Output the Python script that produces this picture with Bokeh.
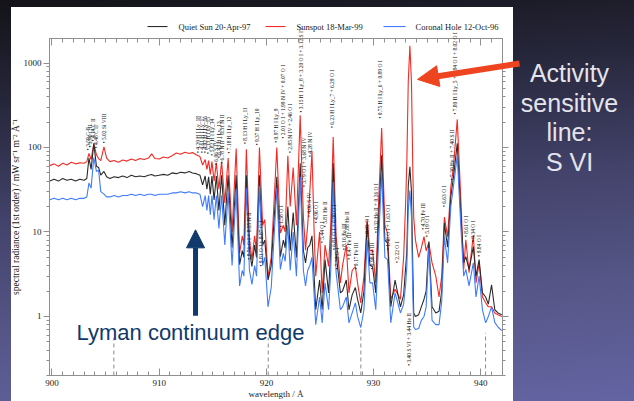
from math import pi, log10, hypot
from bokeh.plotting import figure
from bokeh.models import (ColumnDataSource, Range1d, FixedTicker, LinearAxis, LogAxis,
                          Label, Arrow, NormalHead, CustomJSTickFormatter, NumeralTickFormatter)
from bokeh.core.properties import value
from bokeh.embed import file_html
from bokeh.resources import INLINE

# ---------------- data ----------------
wavelength = [
    899.8, 900.2, 900.6, 901.0, 901.4, 901.8, 902.2, 902.6, 903.0, 903.25,
    903.45, 903.65, 903.9, 904.15, 904.35, 904.55, 904.85, 905.1, 905.4, 905.8,
    906.2, 906.6, 907.0, 907.4, 907.8, 908.2, 908.6, 909.0, 909.3, 909.6,
    910.0, 910.4, 910.8, 911.2, 911.6, 912.0, 912.4, 912.8, 913.1, 913.45,
    913.8, 914.05, 914.29, 914.45, 914.61, 914.77, 914.92, 915.12, 915.33, 915.57,
    915.82, 916.12, 916.43, 916.8, 917.18, 917.5, 917.75, 917.9, 918.13, 918.42,
    918.65, 918.9, 919.08, 919.35, 919.65, 919.85, 920.15, 920.45, 920.97, 921.3,
    921.58, 921.75, 922.0, 922.22, 922.5, 922.8, 923.15, 923.45, 923.65, 923.85,
    924.05, 924.25, 924.45, 924.6, 924.96, 925.2, 925.47, 925.8, 926.0, 926.23,
    926.5, 926.9, 927.1, 927.45, 927.7, 928.0, 928.3, 928.5, 928.8, 929.1,
    929.4, 929.65, 929.9, 930.2, 930.45, 930.75, 931.05, 931.3, 931.6, 932.0,
    932.5, 932.8, 933.0, 933.1, 933.23, 933.38, 933.53, 933.65, 933.74, 933.9,
    934.2, 934.45, 934.7, 934.9, 935.15, 935.45, 935.8, 936.1, 936.35, 936.6,
    936.9, 937.2, 937.45, 937.8, 938.15, 938.4, 938.6, 938.9, 939.3, 939.55,
    939.84, 940.15, 940.45, 940.7, 941.0, 941.3, 941.6, 941.95,
]
sunspot = [
    61, 64, 60, 65, 62, 67, 64, 66, 65, 68,
    85, 72, 110, 82, 74, 70, 102, 75, 68, 70,
    67, 71, 69, 73, 70, 74, 72, 75, 84, 74,
    73, 77, 75, 80, 86, 83, 88, 85, 87, 82,
    78, 62, 72, 55, 70, 48, 68, 40, 66, 32,
    68, 22, 75, 10, 97, 5.6, 9, 7, 95, 8,
    4.7, 9, 6, 100, 12, 14, 2.9, 5, 100, 9.7,
    12, 10, 80, 20, 58, 12, 240, 15, 6.1, 12,
    30, 90, 10, 3.0, 10, 1.9, 7, 3.9, 12, 133,
    9, 2.5, 4, 7, 1.9, 3.5, 3.9, 2.5, 1.45, 3,
    14, 6, 6.1, 2.5, 20, 170, 12, 9.7, 1.6, 2.1,
    1.6, 5, 25, 70, 600, 1600, 600, 60, 15, 8,
    5, 6.5, 8.8, 6, 7.5, 4.3, 3.0, 1.7, 3, 15,
    8.8, 34, 60, 215, 22, 3.6, 8.1, 3.3, 9.2, 2.5,
    4.3, 1.7, 1.45, 1.3, 1.3, 1.1, 1.05, 1.0,
]
quiet_sun = [
    40, 42, 40, 43, 41, 42, 40, 42, 41, 43,
    75, 55, 112, 60, 58, 47, 52, 45, 43, 45,
    44, 46, 44, 47, 45, 46, 45, 47, 48, 46,
    47, 48, 47, 50, 49, 51, 50, 52, 50, 49,
    47, 36, 46, 32, 45, 28, 46, 24, 46, 18,
    47, 12, 47, 6.5, 47, 4.1, 6, 5, 47, 6,
    3.9, 7, 5, 47, 7, 8, 2.7, 4, 45, 5.1,
    8, 6.5, 20, 6, 17, 5, 65, 6, 4.3, 6.5,
    7, 9, 3, 1.2, 2.7, 1.2, 4.7, 1.9, 6, 65,
    5.6, 1.9, 2, 2.7, 1.2, 1.8, 2.2, 1.6, 1.1, 2,
    12.7, 4, 3.9, 1.9, 12, 81, 8, 7.4, 1.3, 2.7,
    1.3, 1.8, 4, 6, 35, 59, 30, 4, 1.1, 1.0,
    1.05, 1.3, 1.6, 2, 7.7, 1.3, 1.1, 1.15, 2, 12.7,
    6.6, 26, 45, 112, 15, 4.3, 5.1, 3.6, 6.7, 3.0,
    4.7, 1.9, 1.7, 1.4, 2.37, 1.2, 1.1, 1.05,
]
coronal_hole = [
    24, 25, 24, 25, 24, 25, 24, 25, 25, 26,
    38, 33, 76, 52, 54, 30, 28, 26, 26, 27,
    26, 27, 27, 28, 27, 28, 27, 28, 28, 27,
    28, 28, 28, 29, 29, 30, 29, 30, 29, 29,
    28, 20, 27, 18, 27, 16, 27, 14, 27, 11,
    27, 7, 29, 4, 32, 2.3, 3.5, 3, 33, 3.5,
    2.4, 4, 3, 35, 4, 5, 1.3, 2.2, 33, 3.6,
    5.6, 4.5, 12, 3.5, 10, 3, 45, 3.5, 2.3, 3.5,
    4, 5, 1.8, 0.8, 1.7, 0.84, 2.5, 1.2, 3.5, 39,
    3.3, 1.2, 1.3, 1.7, 0.84, 1.1, 1.45, 1.0, 0.74, 1.2,
    8.1, 2.5, 2.5, 1.2, 7, 50, 5, 4.7, 0.84, 1.9,
    1.1, 1.4, 2.5, 4, 18, 31, 15, 2, 0.75, 0.7,
    0.72, 0.9, 1.0, 1.3, 6.5, 0.9, 0.8, 0.8, 1.5, 8.8,
    4.3, 20, 35, 80, 10.6, 3.0, 3.6, 2.3, 4.3, 1.7,
    3.0, 1.2, 0.84, 1.0, 1.3, 0.85, 0.75, 0.68,
]

series_labels = ["Quiet Sun 20-Apr-97", "Sunspot 18-Mar-99", "Coronal Hole 12-Oct-96"]

x_ticks = [900, 910, 920, 930, 940]
x_minor_ticks = list(range(900, 943))
y_ticks = [1, 10, 100, 1000]
y_minor_ticks = [0.2, 0.3, 0.4, 0.5, 0.6, 0.7, 0.8, 0.9,
                 2, 3, 4, 5, 6, 7, 8, 9,
                 20, 30, 40, 50, 60, 70, 80, 90,
                 200, 300, 400, 500, 600, 700, 800, 900]

# order-overlap markers (dashed) at the bottom
marker_wl = [905.77, 920.17, 928.81, 940.44]
marker_top = [0.56, 0.56, 0.73, 0.64]

# line identifications
label_wl = [
    903.34, 903.59, 903.84, 904.1, 904.83,
    913.64, 913.95, 914.25, 914.57, 914.95, 915.3, 915.58, 915.88, 916.49,
    917.99, 919.14, 920.85, 921.53, 922.18, 923.27, 923.55, 924.11,
    926.14, 930.64, 937.55,
    918.36, 919.54, 921.32, 923.96, 924.58, 925.2, 925.51, 926.29, 926.54,
    927.22, 927.54, 927.69, 928.31, 929.4, 929.87, 930.18, 931.36, 932.2,
    933.28, 934.59, 935.0, 936.55, 937.33, 938.57, 939.25, 939.81,
]
label_val = [
    93, 100, 118, 98, 112,
    86, 86, 86, 84, 80, 62, 75, 64, 85,
    110, 106, 114, 128, 86, 260, 34, 77,
    170, 220, 245,
    4.7, 3.9, 11.4, 15, 12.7, 7.4, 11.4, 6.1, 3.6,
    6.1, 8.7, 4.7, 3.6, 8.7, 3.6, 9.7, 6.1, 4.3,
    0.26, 10.6, 8.7, 19.7, 41, 8.7, 7.6, 5.1,
]
label_text = [
    "• 3.59 C II", "• 3.96 C II", "• 4.14 C II", "• 4.48 C II", "• 5.02 Si VIII",
    "• 4.29 H I Ly_18", "• 4.61 H I Ly_17", "• 4.92 H I Ly_16", "• 5.33 H I Ly_15",
    "• 5.82 H I Ly_14", "• 6.06 S IV", "• 6.43 H I Ly_13", "• 6.78 N II + 6.51 N II",
    "• 7.18 H I Ly_12", "• 8.13 H I Ly_11", "• 9.37 H I Ly_10", "• 0.97 H I Ly_9",
    "• 2.01 O I + 1.99 N IV + 0.07 O I", "• 2.85 N IV + 2.46 O I",
    "• 3.15 H I Ly_8 + 3.20 O I + 3.12 S IV", "• 3.79 O I + 3.68 N IV", "• 4.28 N IV",
    "• 6.23 H I Ly_7 + 6.29 O I", "• 0.75 H I Ly_6 + 0.89 O I",
    "• 7.80 H I Ly_5 + 7.84 O I + 8.02 O I",
    "• 8.71 O I + 8.55 N II", "• 9.81 O I + 9.87 O I", "• 1.58 O I", "• 4.06 S IV",
    "• 4.96 O I", "• 5.44 O I", "• 5.81 He II", "• 6.81 O I + 6.90 O I", "• 7.39 O I",
    "• 8.16 Fe III", "• 7.88 He II", "• 8.47 Fe III", "• 9.17 Fe III", "• 9.92 O I",
    "• 9.98 Fe III", "• 0.32 He II + 0.26 O I", "• 1.48 O I + 1.63 O I", "• 2.22 O I",
    "• 3.40 S VI + 3.44 He II", "• 4.70 Fe III", "• 5.19 O I", "• 6.63 O I",
    "• 7.30 He II + 7.40 S II", "• 8.61 O I", "• 9.34 O I", "• 9.84 O I",
]

# ---------------- layout & styling ----------------
SERIF = "Liberation Serif"
SANS = "Liberation Sans"
RED = "#f42a24"
BLACK = "#2b2b2b"
BLUE = "#3f7cff"
AXIS = "#8f8f8f"
NAVY = "#0f3a6b"
ORANGE = "#ee4420"

W, H = 634, 401
FL, FR, FT, FB = 49, 502, 38, 376          # frame edges in canvas pixels
X0, X1 = 899.77, 942.02
Y0, Y1 = 0.2, 1950.0


def px_x(px):
    """canvas pixel column -> wavelength (for annotations outside the frame)"""
    return X0 + (px - FL) * (X1 - X0) / (FR - FL)


def px_y(py):
    """canvas pixel row -> radiance on the log axis"""
    return 10 ** (log10(Y1) - (py - FT) * (log10(Y1) - log10(Y0)) / (FB - FT))


src = ColumnDataSource(dict(wl=wavelength, qs=quiet_sun, ss=sunspot, ch=coronal_hole))

p = figure(width=W, height=H,
           x_range=Range1d(X0, X1), y_range=Range1d(Y0, Y1),
           y_axis_type="log", output_backend="svg", toolbar_location=None,
           min_border_left=FL, min_border_right=W - FR, min_border_top=FT,
           min_border_bottom=H - FB)
p.styles = {
    "background": "linear-gradient(#ffffff, #ffffff) 11px 7px / 502px 394px no-repeat, "
                  "linear-gradient(175deg, #131318 0%, #26263a 22%, #42426a 48%, "
                  "#555586 72%, #6364a2 100%)"
}
p.border_fill_color = None
p.background_fill_color = "white"
p.outline_line_color = AXIS
p.xgrid.grid_line_color = None
p.ygrid.grid_line_color = None

# dashed markers
msrc = ColumnDataSource(dict(x=marker_wl, y0=[Y0] * len(marker_wl), y1=marker_top))
p.segment(x0="x", y0="y0", x1="x", y1="y1", source=msrc,
          line_color="#8a8a8a", line_dash="4 3", line_width=1)

r_ss = p.line("wl", "ss", source=src, line_color=RED, line_width=1.1)
r_qs = p.line("wl", "qs", source=src, line_color=BLACK, line_width=1.1)
r_ch = p.line("wl", "ch", source=src, line_color=BLUE, line_width=1.1)

lsrc = ColumnDataSource(dict(x=label_wl, y=label_val, t=label_text))
p.text(x="x", y="y", text="t", source=lsrc, angle=pi / 2,
       text_font=value(SERIF), text_font_size="5.5px", text_color="#111111",
       text_align="left", text_baseline="middle", level="overlay")


# axes
def style_x(ax, labels=True):
    ax.ticker = FixedTicker(ticks=x_ticks, minor_ticks=x_minor_ticks)
    ax.major_tick_in = 7
    ax.major_tick_out = 0
    ax.minor_tick_in = 4
    ax.minor_tick_out = 0
    ax.axis_line_color = AXIS
    ax.major_tick_line_color = AXIS
    ax.minor_tick_line_color = AXIS
    ax.major_label_text_font = SERIF
    ax.major_label_text_font_size = "9px"
    ax.major_label_text_color = "#1a1a1a"
    ax.major_label_standoff = 4
    if not labels:
        ax.formatter = CustomJSTickFormatter(code="return ''")


def style_y(ax, labels=True):
    ax.ticker = FixedTicker(ticks=y_ticks, minor_ticks=y_minor_ticks)
    ax.major_tick_in = 0
    ax.major_tick_out = 6
    ax.minor_tick_in = 0
    ax.minor_tick_out = 3
    ax.axis_line_color = AXIS
    ax.major_tick_line_color = AXIS
    ax.minor_tick_line_color = AXIS
    ax.major_label_text_font = SERIF
    ax.major_label_text_font_size = "9px"
    ax.major_label_text_color = "#1a1a1a"
    ax.major_label_standoff = 2
    if labels:
        ax.formatter = NumeralTickFormatter(format="0")
    else:
        ax.formatter = CustomJSTickFormatter(code="return ''")


xa = p.xaxis[0]
style_x(xa)
xa.axis_label = "wavelength / Å"
xa.axis_label_standoff = 0
xa.axis_label_text_font = SERIF
xa.axis_label_text_font_style = "normal"
xa.axis_label_text_font_size = "9px"
xa.axis_label_text_color = "#1a1a1a"

ya = p.yaxis[0]
style_y(ya)
ya.axis_label = "spectral radiance (1st order) / mW sr⁻¹ m⁻² Å⁻¹"
ya.axis_label_standoff = 0
ya.axis_label_text_font = SERIF
ya.axis_label_text_font_style = "normal"
ya.axis_label_text_font_size = "9.5px"
ya.axis_label_text_color = "#1a1a1a"

top_axis = LinearAxis()
style_x(top_axis, labels=False)
p.add_layout(top_axis, "above")
right_axis = LogAxis()
style_y(right_axis, labels=False)
p.add_layout(right_axis, "right")

# legend drawn above the frame (overlay level so it is not clipped to the frame)
leg_y = px_y(26)
leg_lines = ColumnDataSource(dict(x0=[px_x(147), px_x(265), px_x(383)],
                                  x1=[px_x(167), px_x(285), px_x(405)],
                                  y=[leg_y] * 3, c=[BLACK, RED, BLUE]))
p.segment(x0="x0", y0="y", x1="x1", y1="y", source=leg_lines, line_color="c",
          line_width=1.1, level="overlay")
leg_text = ColumnDataSource(dict(x=[px_x(178), px_x(296), px_x(415)], y=[leg_y] * 3,
                                 t=series_labels))
p.text(x="x", y="y", text="t", source=leg_text, text_font=value(SERIF),
       text_font_size="8.5px", text_color="#1a1a1a", text_align="left",
       text_baseline="middle", level="overlay")

# slide annotation on the right
act_lines = ["Activity", "sensitive", "line:", "S VI"]
act_src = ColumnDataSource(dict(x=[px_x(569)] * 4,
                                y=[px_y(73), px_y(103), px_y(132), px_y(162)],
                                t=act_lines))
p.text(x="x", y="y", text="t", source=act_src, text_font=value(SANS),
       text_font_size="25px", text_color="#e4e4ec", text_align="center",
       text_baseline="alphabetic", level="overlay")

p.add_layout(Label(x=141, y=43, x_units="screen", y_units="screen",
                   text="Lyman continuum edge", text_align="center",
                   text_baseline="alphabetic", text_font=SANS, text_font_size="22px",
                   text_color=NAVY, level="overlay"))

p.add_layout(Arrow(x_start=913.39, y_start=1.02, x_end=913.39, y_end=10.6,
                   line_color=NAVY, line_width=5, level="overlay",
                   end=NormalHead(size=18, fill_color=NAVY, line_color=NAVY, line_width=1)))

# red arrow (crosses the frame edge): shaft + head as overlay glyphs
tail = (519, 63)
tip = (417, 79)
head_len, head_half = 21, 10.5
dx, dy = tip[0] - tail[0], tip[1] - tail[1]
L = hypot(dx, dy)
ux, uy = dx / L, dy / L
bx, by = tip[0] - head_len * ux, tip[1] - head_len * uy
nx, ny = -uy, ux
p.segment(x0=[px_x(tail[0])], y0=[px_y(tail[1])],
          x1=[px_x(bx + 2 * ux)], y1=[px_y(by + 2 * uy)],
          line_color=ORANGE, line_width=6, line_cap="butt", level="overlay")
head_px = [(tip[0], tip[1]), (bx + head_half * nx, by + head_half * ny),
           (bx - head_half * nx, by - head_half * ny)]
p.patch(x=[px_x(a) for a, _ in head_px], y=[px_y(b) for _, b in head_px],
        fill_color=ORANGE, line_color=ORANGE, line_width=1, level="overlay")

open("out.html", "w").write(file_html(p, INLINE))
